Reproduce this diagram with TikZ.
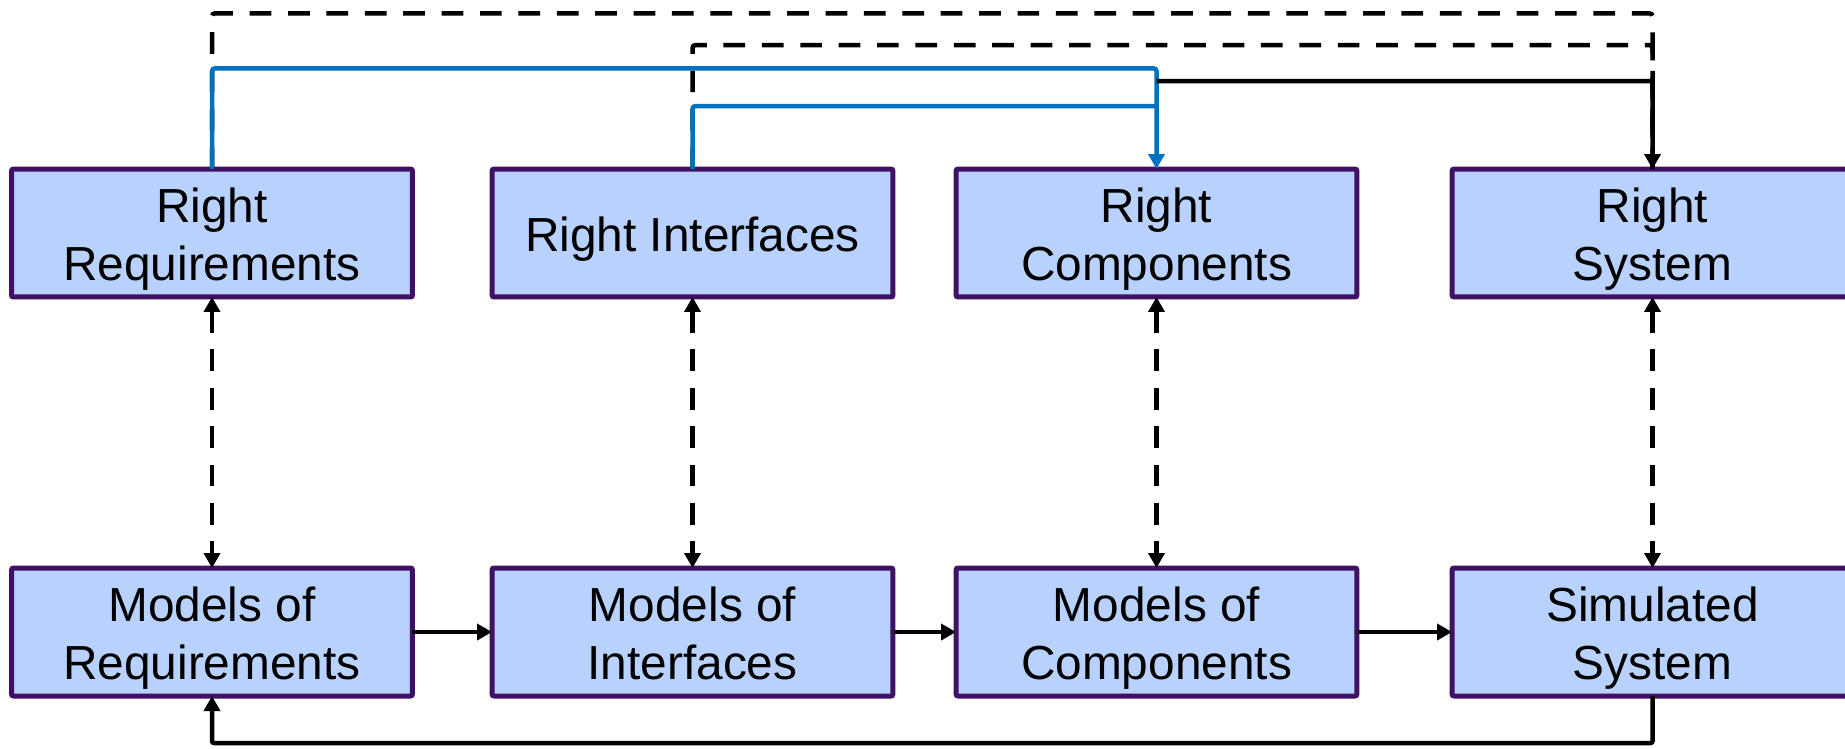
\documentclass[tikz,border=0pt]{standalone}
\usepackage{fontspec}
\setmainfont{Liberation Sans}
\usetikzlibrary{arrows.meta}
\definecolor{boxfill}{RGB}{185,209,253}
\definecolor{boxline}{RGB}{64,16,100}
\definecolor{linkblue}{RGB}{0,112,192}
% label struts: fix the height of the first line and the depth of the last
\newcommand{\topstrut}{\rule{0pt}{27.3pt}}
\newcommand{\botstrut}{\rule[-6.2pt]{0pt}{6.2pt}}
\newcommand{\onestrut}{\rule[-6.2pt]{0pt}{33.4pt}}
\newcommand{\twolines}[2]{\topstrut#1\\#2\botstrut}
\begin{document}
\begin{tikzpicture}[x=0.02cm,y=-0.02cm,
  stage/.style={draw=boxline, line width=0.1cm, fill=boxfill, rounded corners=0.04cm,
    minimum width=8.02cm, minimum height=2.56cm, inner sep=0pt, outer sep=0pt,
    align=center, font=\fontsize{27.2pt}{32.8pt}\selectfont},
  tip/.style={-{Triangle[length=0.3cm,width=0.32cm]}},
  bothtips/.style={{Triangle[length=0.3cm,width=0.32cm]}-{Triangle[length=0.3cm,width=0.32cm]}},
  conn/.style={line width=0.09cm, draw=black},
  dashconn/.style={conn, dash pattern=on 0.434cm off 0.334cm, rounded corners=0.06cm},
  blueconn/.style={conn, draw=linkblue, rounded corners=0.06cm},
]
\useasboundingbox (0,0) rectangle (1845,748);
\clip (0,0) rectangle (1845,748);

% levels of the routed connectors
\coordinate (yA) at (0,13.3);
\coordinate (yB) at (0,45);
\coordinate (yC) at (0,68.3);
\coordinate (yD) at (0,81);
\coordinate (yE) at (0,106);
\coordinate (yF) at (0,743);

% upper row
\node[stage] (rreq)  at (212,233)    {\twolines{Right}{Requirements}};
\node[stage] (rint)  at (692.5,233)  {\onestrut Right Interfaces};
\node[stage] (rcomp) at (1156.5,233) {\twolines{Right}{Components}};
\node[stage] (rsys)  at (1652.5,233) {\twolines{Right}{System}};

% lower row
\node[stage] (mreq)   at (212,632)    {\twolines{Models of}{Requirements}};
\node[stage] (mint)   at (692.5,632)  {\twolines{Models of}{Interfaces}};
\node[stage] (mcomp)  at (1156.5,632) {\twolines{Models of}{Components}};
\node[stage] (simsys) at (1652.5,632) {\twolines{Simulated}{System}};

% dashed links over the top to the system
\draw[dashconn] (rreq.north) -- (rreq.north |- yA) -- (rsys.north |- yA) -- (rsys.north);
\draw[dashconn] (rint.north) -- (rint.north |- yB) -- (rsys.north |- yB) -- (rsys.north);

% blue links into the components
\draw[blueconn] (rint.north) -- (rint.north |- yE) -- (rcomp.north |- yE);
\draw[blueconn, tip] (rreq.north) -- (rreq.north |- yC) -- (rcomp.north |- yC) -- (rcomp.north);

% components into the system
\draw[conn, tip, rounded corners=0.04cm] (rcomp.north |- yD) -- (rsys.north |- yD) -- (rsys.north);

% correspondence between rows
\draw[dashconn, bothtips] (rreq.south)  -- (mreq.north);
\draw[dashconn, bothtips] (rint.south)  -- (mint.north);
\draw[dashconn, bothtips] (rcomp.south) -- (mcomp.north);
\draw[dashconn, bothtips] (rsys.south)  -- (simsys.north);

% model chain
\draw[conn, tip] (mreq.east)  -- (mint.west);
\draw[conn, tip] (mint.east)  -- (mcomp.west);
\draw[conn, tip] (mcomp.east) -- (simsys.west);

% feedback from the simulated system
\draw[conn, tip, rounded corners=0.04cm] (simsys.south) -- (simsys.south |- yF) -- (mreq.south |- yF) -- (mreq.south);
\end{tikzpicture}
\end{document}
